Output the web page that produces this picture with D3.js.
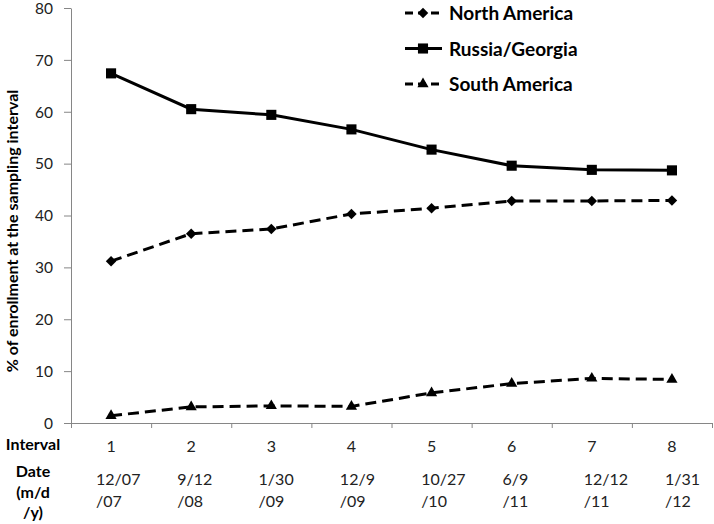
<!DOCTYPE html>
<html><head><meta charset="utf-8">
<script src="https://cdn.jsdelivr.net/npm/d3@7"></script>
<style>body{margin:0;background:#fff}svg{display:block;font-family:Lato, "Open Sans", sans-serif}</style>
</head><body><svg id="c" width="714" height="524"></svg>
<script>
const intervals = [1,2,3,4,5,6,7,8];
const dates = [["12/07","/07"],["9/12","/08"],["1/30","/09"],["12/9","/09"],["10/27","/10"],["6/9","/11"],["12/12","/11"],["1/31","/12"]];
const northAmerica = [31.2,36.5,37.4,40.3,41.4,42.8,42.8,42.9];
const russiaGeorgia = [67.4,60.5,59.4,56.6,52.7,49.6,48.8,48.7];
const southAmerica = [1.4,3.1,3.3,3.2,5.8,7.6,8.6,8.4];
const yTicks = [0,10,20,30,40,50,60,70,80];
const seriesNames = ["North America","Russia/Georgia","South America"];

const svg = d3.select("#c");
const L=71, R=712, T=8, B=423;
const x = d3.scaleBand().domain(intervals).range([L,R]);
const xb = d3.scaleLinear().domain([0,intervals.length]).range([L,R]);
const y = d3.scaleLinear().domain([0,80]).range([B,T]);
const cx = d => x(d)+x.bandwidth()/2;

const gy = svg.append("g").attr("transform",`translate(${L},0)`)
  .call(d3.axisLeft(y).tickValues(yTicks).tickSize(7).tickPadding(11).tickSizeOuter(0));
gy.select(".domain").attr("stroke","#868686");
gy.selectAll(".tick line").attr("stroke","#868686");
gy.selectAll("text").attr("font-size",15.5).attr("fill","#222").attr("font-family","Lato").attr("dy","0.34em");

const gx = svg.append("g").attr("transform",`translate(0,${B})`)
  .call(d3.axisBottom(xb).tickValues(d3.range(0,intervals.length+1)).tickSize(5).tickFormat("").tickSizeOuter(0));
gx.select(".domain").attr("stroke","#868686");
gx.selectAll(".tick line").attr("stroke","#868686");

// Interval row
svg.append("text").attr("x",33).attr("y",450).attr("text-anchor","middle").attr("font-weight","bold").attr("font-size",16).text("Interval");
svg.selectAll(".ilab").data(intervals).join("text").attr("x",cx).attr("y",452).attr("text-anchor","middle").attr("font-size",16).attr("fill","#222").text(d=>d);
// Date rows
const dl = svg.append("text").attr("text-anchor","middle").attr("font-weight","bold").attr("font-size",16);
["Date","(m/d","/y)"].forEach((t,i)=>dl.append("tspan").attr("x",33).attr("y",477+i*20.5).text(t));
dates.forEach((d,i)=>{
  const t = svg.append("text").attr("font-size",16).attr("fill","#222");
  const xx = cx(intervals[i]) - 15 + i*8/7;
  d.forEach((s,j)=>t.append("tspan").attr("x",xx).attr("y",485+j*21.5).text(s));
});

// y label
svg.append("text").attr("transform",`translate(18,231) rotate(-90)`).attr("text-anchor","middle")
  .attr("font-weight","bold").attr("font-size",16).text("% of enrollment at the sampling interval");

const line = d3.line().x((d,i)=>cx(intervals[i])).y(d=>y(d));
const series = [
  {vals:northAmerica, dash:"11,6", shape:d3.symbolDiamond2, size:70},
  {vals:russiaGeorgia, dash:null, shape:d3.symbolSquare2, size:130},
  {vals:southAmerica, dash:"11,6", shape:d3.symbolTriangle2, size:90},
];
series.forEach(s=>{
  svg.append("path").datum(s.vals).attr("d",line).attr("fill","none").attr("stroke","#000").attr("stroke-width",3).attr("stroke-dasharray",s.dash);
  svg.selectAll(null).data(s.vals).join("path")
    .attr("transform",(d,i)=>`translate(${cx(intervals[i])},${y(d)})`)
    .attr("d",d3.symbol(s.shape,s.size)).attr("fill","#000");
});

// legend
const lg = svg.append("g");
series.forEach((s,i)=>{
  const yy = 13 + i*35.5;
  lg.append("line").attr("x1",405).attr("x2",442).attr("y1",yy).attr("y2",yy).attr("stroke","#000").attr("stroke-width",3).attr("stroke-dasharray",s.dash? "8,5":null);
  lg.append("path").attr("transform",`translate(423,${yy})`).attr("d",d3.symbol(s.shape,s.size)).attr("fill","#000");
  lg.append("text").attr("x",449).attr("y",yy+7).attr("font-weight","bold").attr("font-size",19).text(seriesNames[i]);
});
</script></body></html>
